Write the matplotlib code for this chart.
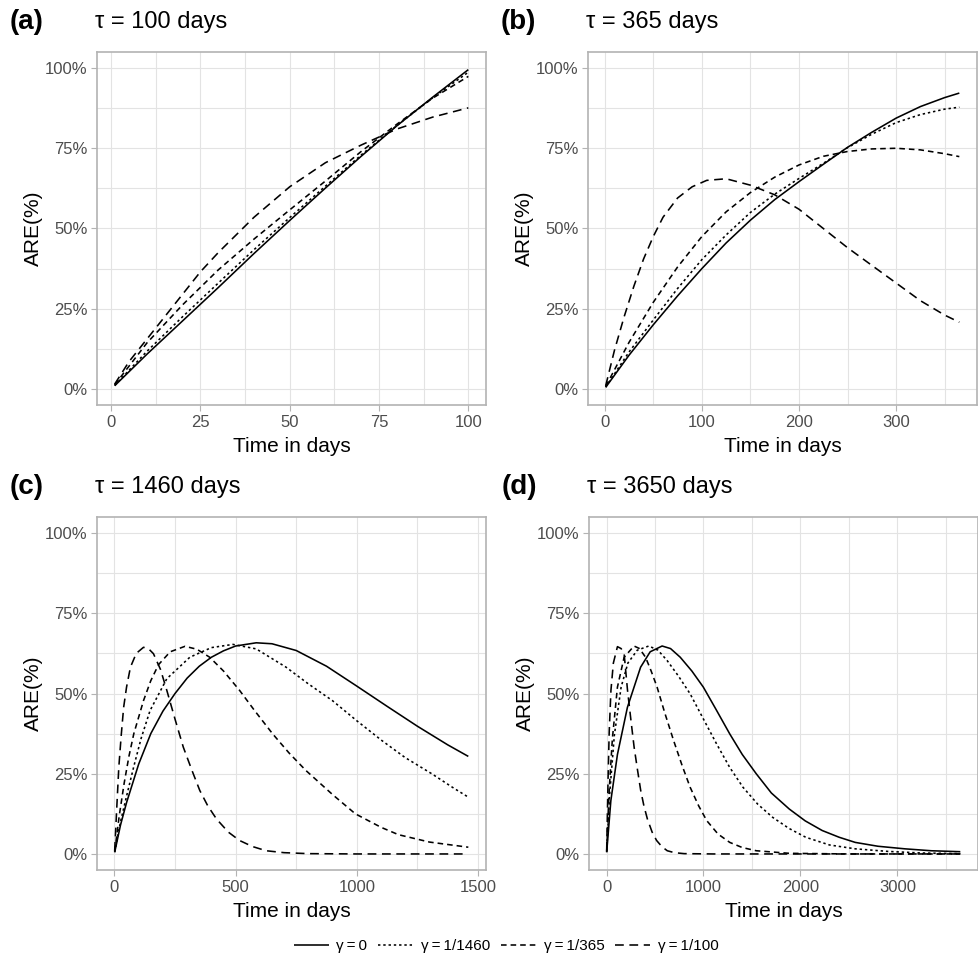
import numpy as np
import matplotlib.pyplot as plt
from matplotlib.ticker import FuncFormatter, MultipleLocator

plt.rcParams['font.family'] = ['Liberation Sans', 'DejaVu Sans']

# ---- data (time in days, ARE in %) ----
# (a) tau = 100
a_g0_t = [1, 10, 20, 30, 40, 50, 60, 70, 80, 90, 100]
a_g0_y = [1.0, 10.8, 21.2, 31.6, 42.2, 52.5, 62.6, 72.5, 82.0, 90.9, 99.5]
a_g1460_t = [1, 10, 20, 30, 40, 50, 60, 70, 80, 90, 100]
a_g1460_y = [1.1, 11.7, 22.5, 33.0, 43.4, 53.4, 63.2, 72.9, 82.1, 90.7, 98.7]
a_g365_t = [1, 10, 20, 30, 40, 50, 60, 70, 80, 90, 100]
a_g365_y = [1.3, 14.3, 26.2, 37.1, 46.7, 55.8, 64.8, 74.0, 82.5, 90.6, 97.4]
a_g100_t = [1, 5, 10, 15, 20, 25, 30, 40, 50, 60, 70, 80, 90, 100]
a_g100_y = [1.5, 8.5, 15.5, 22.5, 29.5, 36.5, 42.5, 53.5, 63.0, 70.5, 76.0, 81.0, 84.7, 87.6]

# (b) tau = 365
b_g0_t = [1, 25, 50, 75, 100, 125, 150, 175, 200, 225, 250, 275, 300, 325, 350, 365]
b_g0_y = [0.5, 10.5, 20.0, 29.0, 37.5, 45.5, 52.6, 59.0, 64.6, 70.0, 75.3, 80.0, 84.4, 88.0, 90.8, 92.2]
b_g1460_t = [1, 25, 50, 75, 100, 125, 150, 175, 200, 225, 250, 275, 300, 325, 350, 365]
b_g1460_y = [0.6, 11.5, 21.5, 31.3, 40.3, 48.0, 55.0, 60.7, 65.6, 70.3, 75.2, 79.4, 83.0, 85.5, 87.2, 87.8]
b_g365_t = [1, 25, 50, 75, 100, 125, 150, 175, 200, 225, 250, 275, 300, 325, 350, 365]
b_g365_y = [0.8, 14.5, 27.0, 38.0, 47.5, 55.2, 61.2, 66.0, 69.8, 72.5, 74.0, 74.8, 75.0, 74.5, 73.3, 72.4]
b_g100_t = [1, 10, 20, 30, 40, 50, 60, 75, 90, 105, 125, 150, 175, 200, 225, 250, 275, 300, 325, 350, 365]
b_g100_y = [1.0, 12.0, 22.5, 32.0, 40.5, 47.5, 53.5, 59.5, 63.0, 65.0, 65.5, 63.5, 60.5, 56.0, 50.0, 44.0, 38.5, 33.0, 27.5, 23.0, 20.8]

# (c) tau = 1460
c_g0_t = [1, 25, 50, 100, 150, 200, 250, 300, 350, 400, 450, 500, 585, 650, 750, 875, 1000, 1125, 1250, 1375, 1460]
c_g0_y = [0.5, 9.0, 16.0, 28.0, 37.5, 44.5, 50.0, 54.8, 58.5, 61.3, 63.3, 64.8, 65.8, 65.5, 63.4, 58.5, 52.3, 46.0, 39.8, 34.0, 30.4]
c_g1460_t = [1, 25, 50, 79, 110, 147, 216, 311, 400, 489, 585, 708, 800, 899, 1000, 1104, 1200, 1309, 1400, 1460]
c_g1460_y = [0.6, 10.0, 18.0, 27.0, 36.0, 44.7, 54.6, 61.3, 64.3, 65.3, 63.9, 58.2, 53.0, 47.8, 41.5, 35.3, 30.0, 25.0, 20.5, 17.7]
c_g365_t = [1, 20, 40, 60, 80, 120, 150, 182, 230, 291, 340, 393, 450, 516, 580, 653, 720, 790, 900, 994, 1100, 1172, 1300, 1460]
c_g365_y = [0.8, 12.0, 22.0, 30.5, 37.5, 47.8, 54.0, 59.0, 63.0, 64.7, 63.8, 61.3, 57.0, 51.0, 44.5, 37.4, 31.5, 26.0, 18.5, 12.5, 8.3, 6.0, 3.7, 2.1]
c_g100_t = [1, 10, 18, 28, 38, 50, 66, 90, 120, 140, 161, 190, 216, 250, 284, 320, 352, 385, 421, 470, 516, 570, 626, 700, 800, 1000, 1200, 1440]
c_g100_y = [1.0, 15.0, 27.0, 37.0, 45.7, 52.0, 58.2, 62.5, 64.4, 64.0, 62.4, 57.5, 51.0, 42.0, 33.3, 26.0, 19.8, 15.0, 10.9, 6.8, 4.2, 2.3, 1.0, 0.4, 0.1, 0.0, 0.0, 0.0]

# (d) tau = 3650
d_g0_t = [1, 44, 112, 215, 351, 450, 573, 660, 760, 880, 998, 1130, 1271, 1400, 1544, 1700, 1885, 2050, 2225, 2400, 2566, 2800, 3077, 3350, 3650]
d_g0_y = [0.5, 16.6, 31.0, 45.7, 58.2, 63.0, 64.8, 64.0, 61.3, 57.0, 52.0, 45.0, 37.4, 31.0, 25.0, 19.0, 14.0, 10.3, 7.3, 5.2, 3.6, 2.4, 1.6, 1.0, 0.7]
d_g1460_t = [1, 30, 80, 150, 220, 317, 436, 530, 624, 740, 862, 1000, 1135, 1270, 1407, 1560, 1714, 1880, 2055, 2300, 2566, 2900, 3248, 3650]
d_g1460_y = [0.6, 18.0, 37.0, 52.0, 59.5, 63.5, 64.8, 63.5, 60.3, 55.5, 49.9, 42.0, 34.3, 27.0, 20.8, 15.5, 11.4, 8.0, 5.2, 2.8, 1.6, 0.8, 0.3, 0.1]
d_g365_t = [1, 27, 60, 112, 181, 283, 340, 402, 460, 521, 600, 692, 780, 862, 950, 1033, 1150, 1271, 1400, 1544, 1885, 2500, 3650]
d_g365_y = [0.8, 20.0, 36.0, 52.0, 61.3, 64.8, 64.0, 61.3, 57.0, 52.0, 44.0, 35.3, 27.5, 20.8, 15.0, 10.4, 6.2, 3.6, 2.0, 1.0, 0.2, 0.0, 0.0]
d_g100_t = [1, 15, 27, 45, 70, 112, 150, 181, 216, 250, 284, 320, 352, 385, 421, 470, 516, 570, 626, 700, 800, 1100, 2000, 3650]
d_g100_y = [1.0, 23.0, 38.0, 51.0, 59.5, 64.6, 64.0, 62.4, 51.0, 42.0, 33.3, 26.0, 19.8, 15.0, 10.9, 6.8, 4.2, 2.3, 1.0, 0.4, 0.1, 0.0, 0.0, 0.0]

panels = [
    ("(a)", "τ = 100 days", 100, [25, 12.5], [(a_g0_t, a_g0_y), (a_g1460_t, a_g1460_y), (a_g365_t, a_g365_y), (a_g100_t, a_g100_y)]),
    ("(b)", "τ = 365 days", 365, [100, 50], [(b_g0_t, b_g0_y), (b_g1460_t, b_g1460_y), (b_g365_t, b_g365_y), (b_g100_t, b_g100_y)]),
    ("(c)", "τ = 1460 days", 1460, [500, 250], [(c_g0_t, c_g0_y), (c_g1460_t, c_g1460_y), (c_g365_t, c_g365_y), (c_g100_t, c_g100_y)]),
    ("(d)", "τ = 3650 days", 3650, [1000, 500], [(d_g0_t, d_g0_y), (d_g1460_t, d_g1460_y), (d_g365_t, d_g365_y), (d_g100_t, d_g100_y)]),
]
labels = ["γ\u2009=\u20090", "γ\u2009=\u20091/1460", "γ\u2009=\u20091/365", "γ\u2009=\u20091/100"]
styles = [dict(linestyle="-"), dict(dashes=(1.5, 1.8)), dict(dashes=(3.5, 2.5)), dict(dashes=(5.5, 3.5))]

W, H = 979, 969
fig = plt.figure(figsize=(W / 100, H / 100), dpi=100)
boxes = [(97, 52), (588, 52), (97, 517), (589, 517)]

for (tag, title, tau, (maj, mnr), curves), (x0, y0) in zip(panels, boxes):
    ax = fig.add_axes([x0 / W, 1 - (y0 + 353) / H, 389 / W, 353 / H])
    lines = []
    for (t, y), st in zip(curves, styles):
        ln, = ax.plot(t, y, color="black", linewidth=1.15, solid_capstyle="butt", **st)
        lines.append(ln)
    span = tau - 1
    ax.set_xlim(1 - 0.05 * span, tau + 0.05 * span)
    ax.set_ylim(-5, 105)
    ax.xaxis.set_major_locator(MultipleLocator(maj))
    ax.xaxis.set_minor_locator(MultipleLocator(mnr))
    ax.yaxis.set_major_locator(MultipleLocator(25))
    ax.yaxis.set_minor_locator(MultipleLocator(12.5))
    ax.yaxis.set_major_formatter(FuncFormatter(lambda v, p: f"{v:.0f}%"))
    ax.grid(which="both", color="#E3E3E3", linewidth=0.8)
    ax.set_axisbelow(True)
    for s in ax.spines.values():
        s.set_color("#B3B3B3")
        s.set_linewidth(1.2)
    ax.tick_params(which="major", color="#B3B3B3", length=4, width=0.8, labelsize=12,
                   labelcolor="#4D4D4D", pad=3)
    ax.tick_params(which="minor", length=0)
    ax.set_xlabel("Time in days", fontsize=15, labelpad=5)
    ax.set_ylabel("ARE(%)", fontsize=15, labelpad=1)
    fig.text((x0 - 87) / W, 1 - (y0 - 30) / H, tag, fontsize=20, fontweight="bold", va="center")
    fig.text((x0 - 2) / W, 1 - (y0 - 30) / H, title, fontsize=17, va="center")

fig.legend(lines, labels, loc="center", bbox_to_anchor=(506 / W, 1 - 946 / H), ncol=4,
           frameon=False, fontsize=11, handlelength=2.3, columnspacing=0.7, handletextpad=0.5)

fig.savefig("out.png", dpi=100)
